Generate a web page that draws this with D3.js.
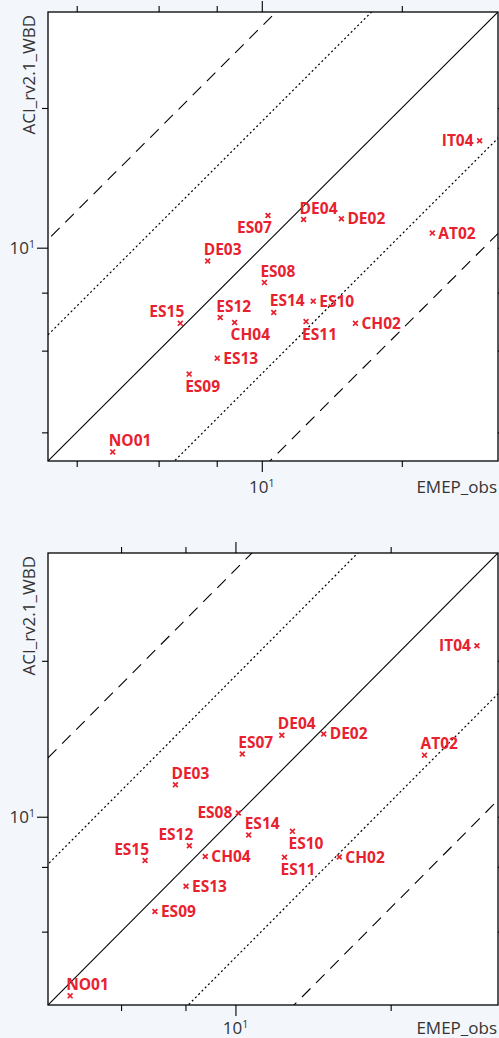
<!DOCTYPE html>
<html>
<head>
<meta charset="utf-8">
<script src="https://cdn.jsdelivr.net/npm/d3@7"></script>
<style>
  html, body { margin: 0; padding: 0; background: #f3f6fa; }
  svg { display: block; }
</style>
</head>
<body>
<div id="chart"></div>
<script>
// ---------------- data ----------------
const stations = ["NO01","ES15","ES09","DE03","ES13","ES12","CH04","ES08","ES07","ES14","ES11","DE04","ES10","DE02","CH02","AT02","IT04"];
const obsValues = [4.78, 6.68, 6.98, 7.65, 8.02, 8.14, 8.74, 10.13, 10.31, 10.61, 12.45, 12.3, 12.9, 14.83, 15.9, 23.26, 29.4];
const modelPanel1 = [3.63, 6.87, 5.34, 9.36, 5.78, 7.07, 6.90, 8.41, 11.73, 7.25, 6.93, 11.5, 7.67, 11.54, 6.87, 10.75, 17.0];
const modelPanel2 = [4.51, 8.23, 6.56, 11.53, 7.34, 8.79, 8.38, 10.17, 13.22, 9.22, 8.35, 14.37, 9.37, 14.45, 8.36, 13.15, 21.39];
const domainPanel1 = [3.47, 32.2];
const domainPanel2 = [4.33, 32.3];
const tickValues = [2, 4, 6, 8, 10, 20, 40];
const majorTicks = [10];
const refFactors = [1/3, 1/1.87, 1, 1.87, 3];
const refStyles  = ["dashed", "dotted", "solid", "dotted", "dashed"];
const xTitle = "EMEP_obs";
const yTitle = "ACI_rv2.1_WBD";

// label placement codes (layout only)
const labelPlace1 = {NO01:"a",ES15:"al",ES09:"b",DE03:"a",ES13:"r",ES12:"a",CH04:"b",ES08:"a",ES07:"bl",ES14:"a",ES11:"b",DE04:"a",ES10:"r",DE02:"r",CH02:"r",AT02:"r",IT04:"l"};
const labelPlace2 = {NO01:"a",ES15:"al",ES09:"r",DE03:"a",ES13:"r",ES12:"al",CH04:"r",ES08:"l",ES07:"a",ES14:"a",ES11:"b",DE04:"a",ES10:"b",DE02:"r",CH02:"r",AT02:"a",IT04:"l"};

// ---------------- drawing ----------------
const W = 499, H = 1038;
const svg = d3.select("#chart").append("svg").attr("width", W).attr("height", H);
svg.append("rect").attr("width", W).attr("height", H).attr("fill", "#f3f6fa");

const RED = "#e8212f";
const TXT = "#333333";
const FONT = "'Open Sans', 'Noto Sans', sans-serif";

function drawPanel(idx, box, domain, model, places, titleDy) {
  const g = svg.append("g");
  const x = d3.scaleLog().domain(domain).range([box.x0, box.x1]);
  const y = d3.scaleLog().domain(domain).range([box.y1, box.y0]);

  g.append("rect").attr("x", box.x0).attr("y", box.y0)
    .attr("width", box.x1 - box.x0).attr("height", box.y1 - box.y0)
    .attr("fill", "#ffffff");

  const clipId = "clip" + idx;
  g.append("clipPath").attr("id", clipId).append("rect")
    .attr("x", box.x0).attr("y", box.y0)
    .attr("width", box.x1 - box.x0).attr("height", box.y1 - box.y0);

  // reference lines
  const lg = g.append("g").attr("clip-path", `url(#${clipId})`);
  refFactors.forEach((f, i) => {
    const lo = domain[0] / 4, hi = domain[1] * 4;
    const st = refStyles[i];
    lg.append("line")
      .attr("x1", x(lo)).attr("y1", y(lo * f))
      .attr("x2", x(hi)).attr("y2", y(hi * f))
      .attr("stroke", "#000")
      .attr("stroke-width", st === "dotted" ? 1.2 : 1.1)
      .attr("stroke-dasharray", st === "dashed" ? "12,8" : st === "dotted" ? "2,2.6" : null);
  });

  // axes
  const ticks = tickValues.filter(t => t >= domain[0] && t <= domain[1]);
  const fmt = () => "";
  const axes = [
    {ax: d3.axisBottom(x), tr: `translate(0,${box.y1})`},
    {ax: d3.axisTop(x), tr: `translate(0,${box.y0})`},
    {ax: d3.axisLeft(y), tr: `translate(${box.x0},0)`},
    {ax: d3.axisRight(y), tr: `translate(${box.x1},0)`}
  ];
  axes.forEach(a => {
    const ag = g.append("g").attr("transform", a.tr)
      .call(a.ax.tickValues(ticks).tickFormat(fmt).tickSizeOuter(0));
    ag.select(".domain").remove();
    ag.selectAll(".tick line")
      .attr("stroke", "#000").attr("stroke-width", 1.1)
      .each(function(d) {
        const len = majorTicks.includes(d) ? 11 : 6;
        const el = d3.select(this);
        if (el.attr("y2") !== null && +el.attr("y2") !== 0) el.attr("y2", (+el.attr("y2") > 0 ? 1 : -1) * len);
        if (el.attr("x2") !== null && +el.attr("x2") !== 0) el.attr("x2", (+el.attr("x2") > 0 ? 1 : -1) * len);
      });
  });

  // frame
  g.append("rect").attr("x", box.x0).attr("y", box.y0)
    .attr("width", box.x1 - box.x0).attr("height", box.y1 - box.y0)
    .attr("fill", "none").attr("stroke", "#000").attr("stroke-width", 1.3);

  // tick labels for major ticks
  majorTicks.forEach(t => {
    const exp = Math.round(Math.log10(t));
    const tx = g.append("text").attr("x", x(t)).attr("y", box.y1 + titleDy)
      .attr("text-anchor", "middle").attr("fill", TXT)
      .style("font-family", FONT).style("font-size", "17px");
    tx.append("tspan").text("10");
    tx.append("tspan").attr("dy", -6).style("font-size", "10.5px").text(exp);
    const ty = g.append("text").attr("x", box.x0 - 13).attr("y", y(t) + 6)
      .attr("text-anchor", "end").attr("fill", TXT)
      .style("font-family", FONT).style("font-size", "17px");
    ty.append("tspan").text("10");
    ty.append("tspan").attr("dy", -6).style("font-size", "10.5px").text(exp);
  });

  // axis titles
  g.append("text").attr("x", box.x1 - 1).attr("y", box.y1 + titleDy)
    .attr("text-anchor", "end").attr("fill", TXT)
    .style("font-family", FONT).style("font-size", "17px").text(xTitle);
  g.append("text")
    .attr("transform", `translate(${box.x0 - 13},${box.y0 + 3}) rotate(-90)`)
    .attr("text-anchor", "end").attr("fill", TXT)
    .style("font-family", FONT).style("font-size", "17px").text(yTitle);

  // points
  const pts = stations.map((s, i) => ({name: s, ox: obsValues[i], my: model[i]}));
  const pg = g.append("g");
  pts.forEach(p => {
    const px = x(p.ox), py = y(p.my), r = 2.4;
    pg.append("path")
      .attr("d", `M${px - r},${py - r}L${px + r},${py + r}M${px - r},${py + r}L${px + r},${py - r}`)
      .attr("stroke", RED).attr("stroke-width", 1.7).attr("fill", "none");
    const pl = places[p.name];
    let lx = px, ly = py, anchor = "start";
    if (pl === "r") { lx = px + 6; ly = py + 5.5; }
    else if (pl === "l") { lx = px - 6; ly = py + 5.5; anchor = "end"; }
    else if (pl === "a") { lx = px - 4; ly = py - 6; }
    else if (pl === "al") { lx = px + 4; ly = py - 6; anchor = "end"; }
    else if (pl === "b") { lx = px - 4; ly = py + 18; }
    else if (pl === "bl") { lx = px + 4; ly = py + 17; anchor = "end"; }
    pg.append("text").attr("x", lx).attr("y", ly)
      .attr("text-anchor", anchor).attr("fill", RED)
      .style("font-family", FONT).style("font-size", "15.5px").style("font-weight", "bold")
      .text(p.name);
  });
}

drawPanel(1, {x0: 48, x1: 498, y0: 12, y1: 461}, domainPanel1, modelPanel1, labelPlace1, 32);
drawPanel(2, {x0: 48, x1: 498, y0: 553, y1: 1005}, domainPanel2, modelPanel2, labelPlace2, 29);
</script>
</body>
</html>
